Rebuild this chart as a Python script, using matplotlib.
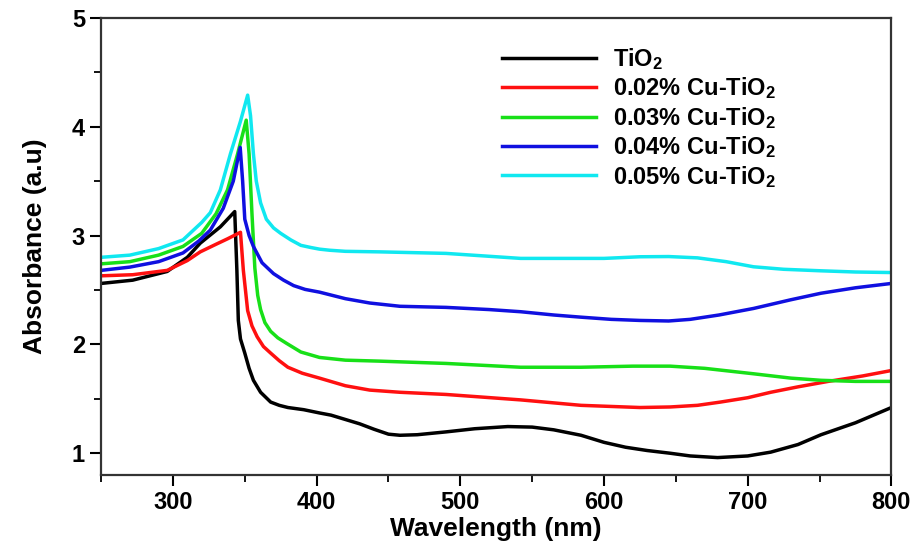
import matplotlib
matplotlib.use("Agg")
import matplotlib.pyplot as plt
from matplotlib.ticker import MultipleLocator

plt.rcParams["font.family"] = ["Liberation Sans", "DejaVu Sans"]
plt.rcParams["font.weight"] = "bold"
plt.rcParams["mathtext.fontset"] = "custom"
plt.rcParams["mathtext.rm"] = "Liberation Sans:bold"
plt.rcParams["mathtext.default"] = "rm"

# datos (nm, absorbancia)
wl_tio2 = [250, 272, 296, 310, 319, 333, 343, 344.5, 345.5, 347, 350, 353, 356, 361, 368, 374, 380,
           391, 402, 410, 420, 430, 440, 450, 458, 470, 490, 510, 533, 550, 565, 584, 600, 615,
           630, 646, 660, 679, 700, 716, 735, 751, 775, 800]
abs_tio2 = [2.56, 2.59, 2.67, 2.80, 2.93, 3.08, 3.22, 2.68, 2.22, 2.05, 1.92, 1.78, 1.67, 1.56, 1.47, 1.44, 1.42,
            1.40, 1.37, 1.35, 1.31, 1.27, 1.22, 1.175, 1.165, 1.17, 1.196, 1.225, 1.245, 1.24, 1.215, 1.165, 1.10, 1.055,
            1.025, 1.0, 0.975, 0.96, 0.975, 1.01, 1.08, 1.17, 1.28, 1.42]

wl_cu02 = [250, 272, 296, 310, 319, 330, 338, 347, 349, 352, 355, 358.6, 363, 368, 374, 380, 390, 402,
           420, 437, 458, 490, 542, 584, 625, 646, 665, 681, 700, 716, 735, 756, 780, 800]
abs_cu02 = [2.63, 2.64, 2.68, 2.77, 2.85, 2.92, 2.97, 3.03, 2.68, 2.31, 2.17, 2.07, 1.98, 1.92, 1.85, 1.79, 1.735, 1.69,
            1.62, 1.58, 1.56, 1.54, 1.49, 1.44, 1.42, 1.425, 1.44, 1.47, 1.51, 1.56, 1.61, 1.66, 1.71, 1.76]

wl_cu03 = [250, 270, 290, 307, 320, 330, 338, 345, 351, 353, 355, 357, 359, 361, 364, 368, 373, 379,
           389, 402, 420, 444, 490, 542, 584, 620, 646, 670, 704, 730, 751, 775, 800]
abs_cu03 = [2.74, 2.76, 2.82, 2.90, 3.02, 3.20, 3.42, 3.75, 4.06, 3.75, 3.20, 2.70, 2.45, 2.32, 2.20, 2.12, 2.06, 2.01,
            1.93, 1.88, 1.855, 1.846, 1.825, 1.79, 1.79, 1.80, 1.80, 1.78, 1.73, 1.69, 1.67, 1.66, 1.66]

wl_cu04 = [250, 270, 290, 307, 318, 326, 335, 342, 346.8, 348.5, 350, 353, 356, 362, 370, 377, 384, 392,
           402, 420, 437, 458, 490, 520, 542, 565, 584, 605, 625, 645, 660, 680, 704, 730, 751, 775, 800]
abs_cu04 = [2.68, 2.71, 2.76, 2.84, 2.95, 3.05, 3.25, 3.50, 3.81, 3.50, 3.15, 3.00, 2.90, 2.75, 2.65, 2.59, 2.54, 2.505,
            2.48, 2.42, 2.38, 2.35, 2.34, 2.32, 2.30, 2.27, 2.25, 2.23, 2.22, 2.215, 2.23, 2.27, 2.33, 2.41, 2.47, 2.52, 2.56]

wl_cu05 = [250, 270, 290, 307, 320, 326, 333, 340, 347, 352, 354, 356, 358, 361, 365, 370, 375, 382,
           389, 396, 402, 409, 420, 444, 490, 542, 584, 600, 625, 645, 665, 685, 704, 725, 751, 775, 800]
abs_cu05 = [2.80, 2.82, 2.88, 2.96, 3.12, 3.21, 3.42, 3.75, 4.05, 4.29, 4.10, 3.75, 3.50, 3.30, 3.15, 3.07, 3.02, 2.96,
            2.91, 2.89, 2.875, 2.865, 2.855, 2.85, 2.836, 2.79, 2.79, 2.79, 2.805, 2.807, 2.795, 2.76, 2.713, 2.69,
            2.676, 2.665, 2.66]

series = [
    (wl_tio2, abs_tio2, "black", "TiO$_2$"),
    (wl_cu02, abs_cu02, "#ff1010", "0.02% Cu-TiO$_2$"),
    (wl_cu03, abs_cu03, "#18e018", "0.03% Cu-TiO$_2$"),
    (wl_cu04, abs_cu04, "#1010e0", "0.04% Cu-TiO$_2$"),
    (wl_cu05, abs_cu05, "#10e8f0", "0.05% Cu-TiO$_2$"),
]

fig = plt.figure(figsize=(9.19, 5.41), dpi=100)
ax = fig.add_axes([0.110, 0.122, 0.860, 0.845])

for x, y, c, lab in series:
    ax.plot(x, y, color=c, linewidth=2.5, label=lab, solid_joinstyle="round")

ax.set_xlim(250, 800)
ax.set_ylim(0.8, 5)
ax.xaxis.set_major_locator(MultipleLocator(100))
ax.xaxis.set_minor_locator(MultipleLocator(50))
ax.yaxis.set_major_locator(MultipleLocator(1))
ax.yaxis.set_minor_locator(MultipleLocator(0.5))
ax.tick_params(which="major", direction="out", length=8, width=1.5, labelsize=17)
ax.tick_params(which="minor", direction="out", length=5, width=1.3)
for s in ax.spines.values():
    s.set_linewidth(1.6)
    s.set_color("#333333")

ax.set_xlabel("Wavelength (nm)", fontsize=19, fontweight="bold", labelpad=2)
ax.set_ylabel("Absorbance (a.u)", fontsize=19, fontweight="bold", labelpad=18)

ax.legend(loc="upper left", bbox_to_anchor=(0.48, 0.985), frameon=False, fontsize=17,
          handlelength=4.0, handletextpad=0.7, labelspacing=0.15)

plt.savefig("out.png", dpi=100)
